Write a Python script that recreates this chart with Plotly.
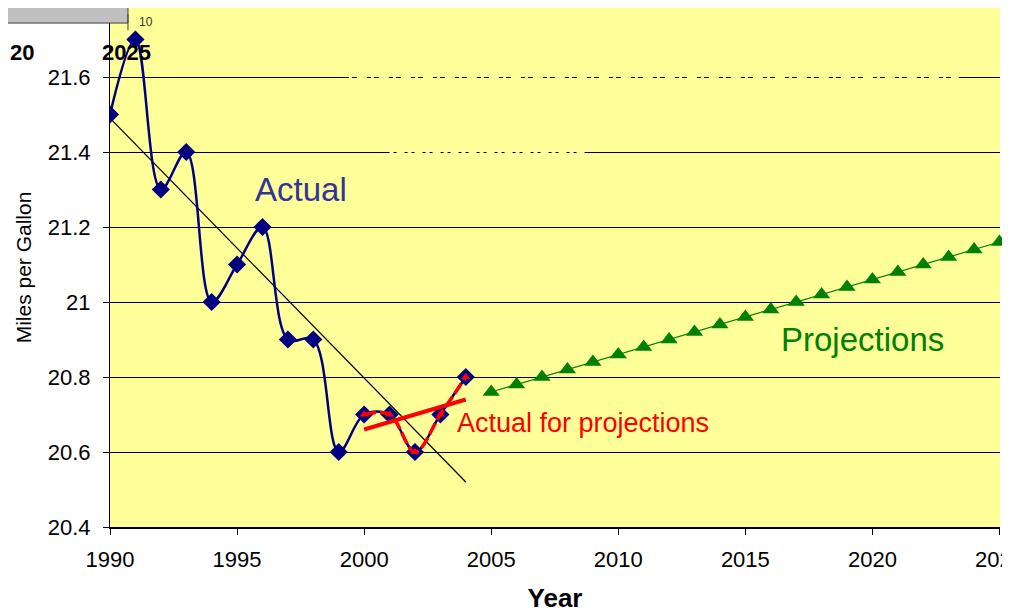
import plotly.graph_objects as go

# actual fuel economy, 1990-2004
years_actual = [1990, 1991, 1992, 1993, 1994, 1995, 1996, 1997, 1998, 1999, 2000, 2001, 2002, 2003, 2004]
mpg_actual = [21.5, 21.7, 21.3, 21.4, 21.0, 21.1, 21.2, 20.9, 20.9, 20.6, 20.7, 20.7, 20.6, 20.7, 20.8]

# subset used for the projections
years_base = [2000, 2001, 2002, 2003, 2004]
mpg_base = [20.7, 20.7, 20.6, 20.7, 20.8]

# trend lines (end points)
trend_all_x = [1990, 2004]
trend_all_y = [21.49, 20.52]
trend_base_x = [2000, 2004]
trend_base_y = [20.66, 20.74]

# projections 2005-2025
years_proj = [2005, 2006, 2007, 2008, 2009, 2010, 2011, 2012, 2013, 2014, 2015,
              2016, 2017, 2018, 2019, 2020, 2021, 2022, 2023, 2024, 2025]
mpg_proj = [20.76, 20.78, 20.80, 20.82, 20.84, 20.86, 20.88, 20.90, 20.92, 20.94, 20.96,
            20.98, 21.00, 21.02, 21.04, 21.06, 21.08, 21.10, 21.12, 21.14, 21.16]

y_ticks = [20.4, 20.6, 20.8, 21.0, 21.2, 21.4, 21.6]
y_labels = ["20.4", "20.6", "20.8", "21", "21.2", "21.4", "21.6"]
x_ticks = [1990, 1995, 2000, 2005, 2010, 2015, 2020, 2025]

FONT = "Liberation Sans, Arial, sans-serif"
NAVY = "#000080"

fig = go.Figure()

fig.add_trace(go.Scatter(
    x=trend_all_x, y=trend_all_y, mode="lines",
    line=dict(color="black", width=1.2), showlegend=False))

fig.add_trace(go.Scatter(
    x=years_actual, y=mpg_actual, mode="lines+markers",
    line=dict(color=NAVY, width=2.5, shape="spline", smoothing=1),
    marker=dict(symbol="diamond", size=14, color=NAVY),
    showlegend=False))

fig.add_trace(go.Scatter(
    x=years_base, y=mpg_base, mode="lines+markers",
    line=dict(color="#FF0000", width=3.5, shape="spline", smoothing=1, dash="12px,4px"),
    marker=dict(symbol="triangle-up", size=8, color="#FF0000"),
    showlegend=False))

fig.add_trace(go.Scatter(
    x=trend_base_x, y=trend_base_y, mode="lines",
    line=dict(color="#FF0000", width=4), showlegend=False))

fig.add_trace(go.Scatter(
    x=years_proj, y=mpg_proj, mode="lines+markers",
    line=dict(color="#008000", width=1.2),
    marker=dict(symbol="triangle-up", size=15, color="#008000"),
    cliponaxis=False, showlegend=False))

# broken bits of gridline
fig.add_shape(type="line", x0=1999.4, x1=2023.4, y0=21.6, y1=21.6, layer="above",
              line=dict(color="#FFFF99", width=2, dash="3px,5px,10px,4px"))
fig.add_shape(type="line", x0=2001.0, x1=2008.7, y0=21.4, y1=21.4, layer="above",
              line=dict(color="#FFFF99", width=2, dash="4px,3px,8px,3px"))

# gray box top-left
fig.add_shape(type="rect", xref="paper", yref="paper",
              x0=-0.12, x1=0.0202, y0=0.971, y1=1.03,
              fillcolor="#C0C0C0", line=dict(color="#404040", width=1))
fig.add_shape(type="line", xref="paper", yref="paper",
              x0=0.0202, x1=0.0202, y0=0.957, y1=0.988,
              line=dict(color="#404040", width=1))

fig.add_annotation(x=1997.5, y=21.30, text="Actual", showarrow=False,
                   font=dict(family=FONT, size=33, color="#333399"))
fig.add_annotation(x=2019.6, y=20.90, text="Projections", showarrow=False,
                   font=dict(family=FONT, size=33, color="#008000"))
fig.add_annotation(x=2008.6, y=20.677, text="Actual for projections", showarrow=False,
                   font=dict(family=FONT, size=27, color="#FF0000"))

fig.add_annotation(xref="paper", yref="paper", x=-0.1146, y=0.915, text="<b>20</b>",
                   xanchor="left", yanchor="middle",
                   showarrow=False, font=dict(family=FONT, size=22, color="black"))
fig.add_annotation(xref="paper", yref="paper", x=0.019, y=0.915, text="<b>2025</b>",
                   xanchor="center", yanchor="middle",
                   showarrow=False, font=dict(family=FONT, size=22, color="black"))
fig.add_annotation(xref="paper", yref="paper", x=0.0404, y=0.973, text="10",
                   xanchor="center", yanchor="middle",
                   showarrow=False, font=dict(family=FONT, size=12, color="#333333"))

fig.update_xaxes(
    range=[1990, 2025.02], tickvals=x_ticks, ticks="outside", ticklen=6,
    tickcolor="black", showline=True, linecolor="black", linewidth=1.5,
    showgrid=False, zeroline=False, automargin=False, ticklabeloverflow="allow",
    ticklabelstandoff=6,
    tickfont=dict(family=FONT, size=22, color="black"),
    title=dict(text="<b>Year</b>", font=dict(family=FONT, size=26, color="black"), standoff=23))

fig.update_yaxes(
    range=[20.4, 21.784], tickvals=y_ticks, ticktext=y_labels, ticks="outside", ticklen=6,
    tickcolor="black", showline=True, linecolor="black", linewidth=1,
    showgrid=True, gridcolor="black", gridwidth=1, zeroline=False, automargin=False,
    ticklabelstandoff=8,
    tickfont=dict(family=FONT, size=22, color="black"),
    title=dict(text="Miles per Gallon", font=dict(family=FONT, size=21, color="black"), standoff=10))

# page body has an 8px margin, so the figure is sized to fit inside the window
fig.update_layout(
    width=1002, height=605,
    margin=dict(l=102, r=10, t=0, b=86),
    paper_bgcolor="white", plot_bgcolor="#FFFF99",
    showlegend=False)

fig.write_html("out.html")
